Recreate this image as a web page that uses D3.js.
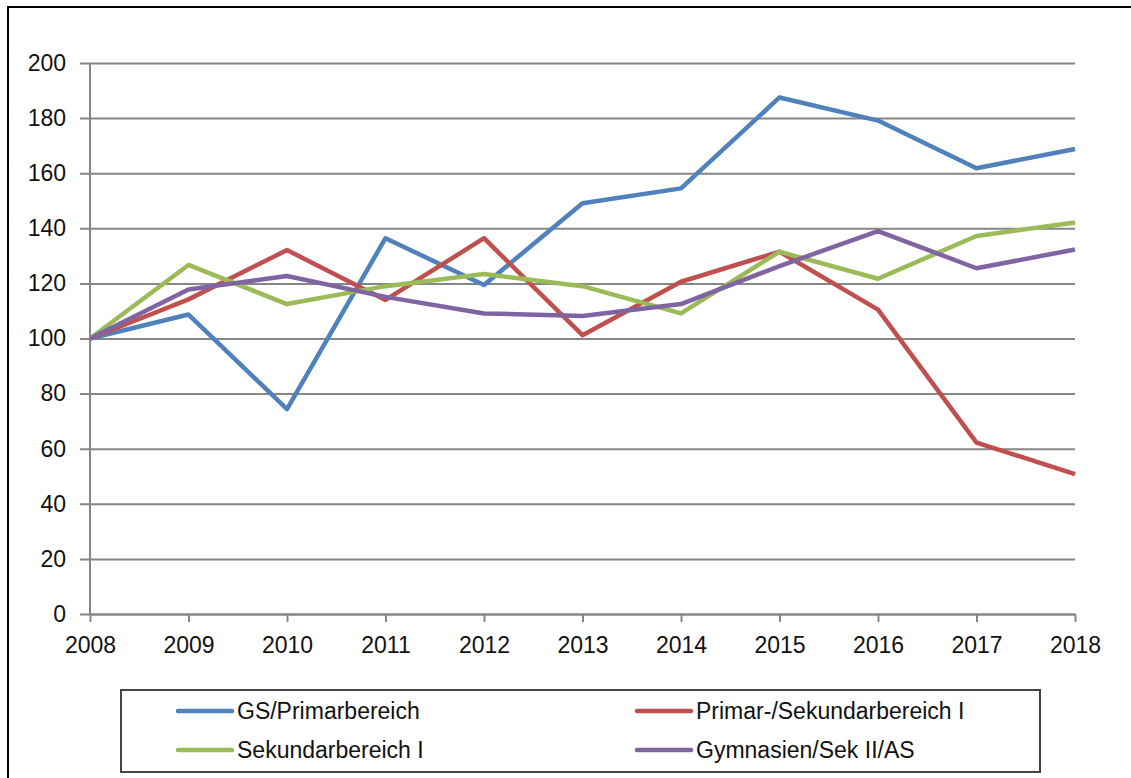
<!DOCTYPE html>
<html>
<head>
<meta charset="utf-8">
<script src="https://cdn.jsdelivr.net/npm/d3@7"></script>
<style>
  body { margin: 0; background: #fff; }
  text { font-family: "Liberation Sans", Arial, sans-serif; fill: #111; }
</style>
</head>
<body>
<svg id="chart" width="1131" height="778"></svg>
<script>
var years = [2008, 2009, 2010, 2011, 2012, 2013, 2014, 2015, 2016, 2017, 2018]
var yTicks = [0, 20, 40, 60, 80, 100, 120, 140, 160, 180, 200]
var seriesNames = ["GS/Primarbereich", "Primar-/Sekundarbereich I", "Sekundarbereich I", "Gymnasien/Sek II/AS"]
var seriesColors = ["#4F81BD", "#C0504D", "#9BBB59", "#8064A2"]
var gsPrimar = [100, 108.7, 74.4, 136.4, 119.4, 149.1, 154.5, 187.5, 179.1, 161.8, 168.8]
var primarSek = [100, 114.2, 132.1, 114, 136.4, 101.2, 120.6, 131.5, 110.5, 62.2, 50.8]
var sekundar = [100, 126.7, 112.5, 119, 123.4, 119, 109.1, 131.5, 121.7, 137.2, 142.1]
var gymnasien = [100, 117.8, 122.7, 115.1, 109.1, 108.2, 112.5, 126.3, 139, 125.5, 132.3]
var allSeries = [gsPrimar, primarSek, sekundar, gymnasien]

var svg = d3.select("#chart")

// outer chart frame
svg.append("rect")
    .attr("x", 8).attr("y", 7)
    .attr("width", 1140).attr("height", 790)
    .attr("fill", "none").attr("stroke", "#000").attr("stroke-width", 2)

var x = d3.scaleLinear().domain([2008, 2018]).range([90, 1075])
var y = d3.scaleLinear().domain([0, 200]).range([614, 63])

// gridlines + y axis
var yAxis = d3.axisLeft(y).tickValues(yTicks).tickSize(-(1075 - 80)).tickSizeOuter(0).tickPadding(14)
var gy = svg.append("g").attr("transform", "translate(80,0)").call(yAxis)
gy.select(".domain").remove()
gy.selectAll(".tick line").attr("stroke", "#868686").attr("stroke-width", 2)
gy.selectAll(".tick text").style("font-size", "23px")

svg.append("line")
    .attr("x1", x(2008)).attr("x2", x(2008))
    .attr("y1", y(200)).attr("y2", y(0))
    .attr("stroke", "#868686").attr("stroke-width", 2)

// x axis
var xAxis = d3.axisBottom(x).tickValues(years).tickFormat(d3.format("d")).tickSize(8).tickSizeOuter(0).tickPadding(15)
var gx = svg.append("g").attr("transform", "translate(0," + y(0) + ")").call(xAxis)
gx.select(".domain").attr("stroke", "#868686").attr("stroke-width", 2)
gx.selectAll(".tick line").attr("stroke", "#868686").attr("stroke-width", 2)
gx.selectAll(".tick text").style("font-size", "23px")

var line = d3.line()
    .x(function(d, i){ return x(years[i]) })
    .y(function(d){ return y(d) })

svg.selectAll("path.series")
    .data(allSeries)
    .enter().append("path")
    .attr("class", "series")
    .attr("d", line)
    .attr("fill", "none")
    .attr("stroke", function(d, i){ return seriesColors[i] })
    .attr("stroke-width", 4.5)
    .attr("stroke-linejoin", "round")

// legend
svg.append("rect")
    .attr("x", 121).attr("y", 690)
    .attr("width", 919).attr("height", 82)
    .attr("fill", "#fff").attr("stroke", "#444").attr("stroke-width", 2)

var legendPos = [[178, 711], [637, 711], [178, 750], [637, 750]]
var lg = svg.selectAll("g.legend")
    .data(seriesNames)
    .enter().append("g")
    .attr("class", "legend")
    .attr("transform", function(d, i){ return "translate(" + legendPos[i][0] + "," + legendPos[i][1] + ")" })
lg.append("line")
    .attr("x1", 0).attr("x2", 54)
    .attr("stroke", function(d, i){ return seriesColors[i] })
    .attr("stroke-width", 4.5)
    .attr("stroke-linecap", "round")
lg.append("text")
    .attr("x", 59).attr("dy", "0.35em")
    .style("font-size", "23px")
    .text(function(d){ return d })
</script>
</body>
</html>
